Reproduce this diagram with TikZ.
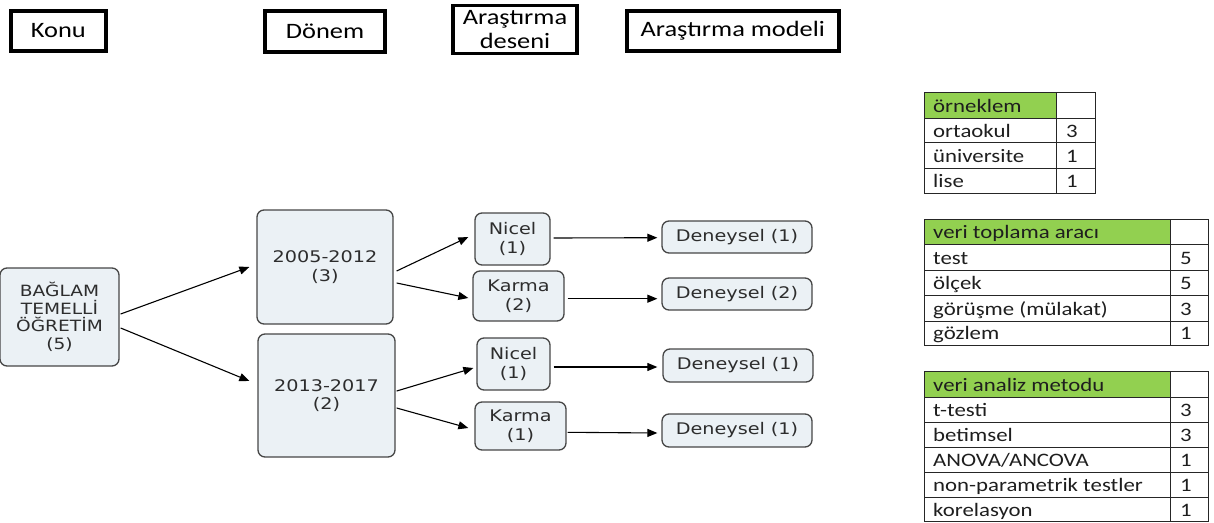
\documentclass[tikz,border=0pt]{standalone}
\usepackage{fontspec}
\usetikzlibrary{arrows.meta}
\newfontfamily\hfont[FakeStretch=1.2]{Carlito}
\newfontfamily\nfont[FakeStretch=1.2]{DejaVu Sans}
\definecolor{nodefill}{RGB}{235,241,245}
\definecolor{nodeline}{RGB}{70,70,70}
\definecolor{ntext}{RGB}{45,45,45}
\definecolor{hgreen}{RGB}{146,208,80}
\definecolor{ttext}{RGB}{30,30,30}
\tikzset{
  hdr/.style={draw=black, line width=3.6pt, inner sep=0pt, align=center, font=\hfont\fontsize{22}{23}\selectfont, text=black},
  box/.style={draw=nodeline, line width=1.3pt, rounded corners=7pt, fill=nodefill, inner sep=0pt, align=center, text=ntext, font=\nfont\fontsize{16}{18.5}\selectfont},
  arr/.style={draw=black, line width=1.1pt, -{Triangle[length=10pt,width=8pt]}},
  tline/.style={draw=black!85, line width=0.9pt},
  ttxt/.style={anchor=base west, inner sep=0pt, text=ttext, font=\hfont\fontsize{19}{20}\selectfont}
}
\begin{document}
\begin{tikzpicture}[x=1pt,y=-1pt]
\useasboundingbox (0,0) rectangle (1214,522);
% header boxes
\node[hdr, minimum width=95pt, minimum height=40pt] (konu) at (58.3,31) {Konu};
\node[hdr, minimum width=120pt, minimum height=41pt] (donem) at (325,31.3) {Dönem};
\node[hdr, minimum width=124pt, minimum height=48pt, font=\hfont\fontsize{22}{24}\selectfont] (desen) at (515,29.5) {Araştırma\\deseni};
\node[hdr, minimum width=212pt, minimum height=40pt] (model) at (732.8,31) {Araştırma modeli};
% nodes
\node[box, minimum width=119pt, minimum height=98pt, font=\nfont\fontsize{15.5}{17.5}\selectfont] (bag) at (59.5,317) {BAĞLAM\\TEMELLİ\\ÖĞRETİM\\(5)};
\node[box, minimum width=136pt, minimum height=114pt] (p1) at (325,267) {2005-2012\\(3)};
\node[box, minimum width=137pt, minimum height=123pt] (p2) at (326.5,395.5) {2013-2017\\(2)};
\node[box, minimum width=75pt, minimum height=52pt] (n1) at (512.5,239) {Nicel\\(1)};
\node[box, minimum width=91pt, minimum height=50pt] (k2) at (518.5,296) {Karma\\(2)};
\node[box, minimum width=73pt, minimum height=52pt] (n2) at (513.5,364) {Nicel\\(1)};
\node[box, minimum width=91pt, minimum height=48pt] (k1) at (520.5,426) {Karma\\(1)};
\node[box, minimum width=150pt, minimum height=32pt] (d1) at (737,237) {Deneysel (1)};
\node[box, minimum width=150pt, minimum height=32pt] (d2) at (737,294) {Deneysel (2)};
\node[box, minimum width=150pt, minimum height=33pt] (d3) at (738,365.5) {Deneysel (1)};
\node[box, minimum width=150pt, minimum height=33pt] (d4) at (737,430.5) {Deneysel (1)};
% arrows
\draw[arr] ([xshift=1pt,yshift=3pt]bag.east) -- ([xshift=-7pt]p1.west);
\draw[arr] ([xshift=1pt,yshift=-11pt]bag.east) -- ([xshift=-8pt,yshift=14.5pt]p2.west);
\draw[arr] ([xshift=3pt,yshift=-4pt]p1.east) -- ([xshift=-6pt,yshift=2pt]n1.west);
\draw[arr] ([xshift=3pt,yshift=-16pt]p1.east) -- ([xshift=-4pt,yshift=-2pt]k2.west);
\draw[arr] ([xshift=1pt,yshift=4.5pt]p2.east) -- ([xshift=-3pt,yshift=-4pt]n2.west);
\draw[arr] ([xshift=1pt,yshift=-12.5pt]p2.east) -- ([xshift=-6pt,yshift=-2pt]k1.west);
\draw[arr] ([xshift=3pt,yshift=1pt]n1.east) -- ([xshift=-4pt,yshift=-0.7pt]d1.west);
\draw[arr] ([xshift=3pt,yshift=-2.7pt]k2.east) -- ([xshift=-4pt,yshift=-4.7pt]d2.west);
\draw[arr] ([xshift=3pt,yshift=-3pt]n2.east) -- ([xshift=-5pt,yshift=-1.5pt]d3.west);
\draw[arr] ([xshift=1pt,yshift=-6.3pt]k1.east) -- ([xshift=-4pt,yshift=-2.5pt]d4.west);
% table 1
\fill[hgreen] (924,92.5) rectangle (1056,118);
\draw[tline] (924,92.5) rectangle (1095,193);
\draw[tline] (1056,92.5) -- (1056,193);
\foreach \y in {118,142.5,168} \draw[tline] (924,\y) -- (1095,\y);
\node[ttxt] (t1h) at (933,112) {örneklem};
\node[ttxt] (t1a) at (933,137) {ortaokul};
\node[ttxt] (t1av) at (1066,137) {3};
\node[ttxt] (t1b) at (933,162) {üniversite};
\node[ttxt] (t1bv) at (1066,162) {1};
\node[ttxt] (t1c) at (933,187) {lise};
\node[ttxt] (t1cv) at (1066,187) {1};
% table 2
\fill[hgreen] (924,219) rectangle (1170,244.5);
\draw[tline] (924,219) rectangle (1208,345);
\draw[tline] (1170,219) -- (1170,345);
\foreach \y in {244.5,270,295.5,321} \draw[tline] (924,\y) -- (1208,\y);
\node[ttxt] (t2h) at (933,238.5) {veri toplama aracı};
\node[ttxt] (t2a) at (933,264) {test};
\node[ttxt] (t2av) at (1180,264) {5};
\node[ttxt] (t2b) at (933,289.5) {ölçek};
\node[ttxt] (t2bv) at (1180,289.5) {5};
\node[ttxt] (t2c) at (933,315) {görüşme (mülakat)};
\node[ttxt] (t2cv) at (1180,315) {3};
\node[ttxt] (t2d) at (933,339.5) {gözlem};
\node[ttxt] (t2dv) at (1180,339.5) {1};
% table 3
\fill[hgreen] (924,371.5) rectangle (1170,397);
\draw[tline] (924,371.5) rectangle (1208,521.5);
\draw[tline] (1170,371.5) -- (1170,521.5);
\foreach \y in {397,422,447.5,472.5,497.5} \draw[tline] (924,\y) -- (1208,\y);
\node[ttxt] (t3h) at (933,391) {veri analiz metodu};
\node[ttxt] (t3a) at (933,416) {t-testi};
\node[ttxt] (t3av) at (1180,416) {3};
\node[ttxt] (t3b) at (933,441.5) {betimsel};
\node[ttxt] (t3bv) at (1180,441.5) {3};
\node[ttxt] (t3c) at (933,466.5) {ANOVA/ANCOVA};
\node[ttxt] (t3cv) at (1180,466.5) {1};
\node[ttxt] (t3d) at (933,491.5) {non-parametrik testler};
\node[ttxt] (t3dv) at (1180,491.5) {1};
\node[ttxt] (t3e) at (933,516) {korelasyon};
\node[ttxt] (t3ev) at (1180,516) {1};
\end{tikzpicture}
\end{document}
